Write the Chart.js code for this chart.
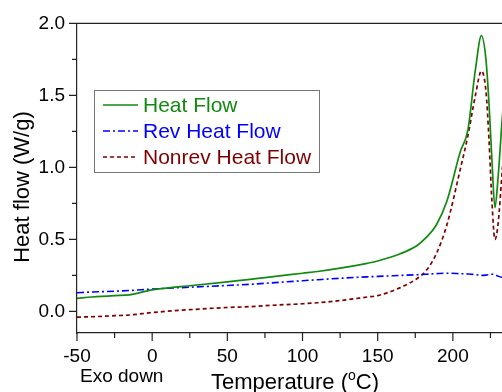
<!DOCTYPE html>
<html>
<head>
<meta charset="utf-8">
<script src="https://cdn.jsdelivr.net/npm/chart.js@4/dist/chart.umd.min.js"></script>
<style>
  html, body { margin: 0; padding: 0; overflow: hidden; background: #fff; }
  canvas { display: block; }
</style>
</head>
<body>
<canvas id="dsc" width="513" height="392"></canvas>
<script>
var temps = [-50, -40, -25, -15, 0, 15, 25, 50, 65, 75, 100, 110, 125, 143, 150, 165, 176, 182, 189, 196,
             205, 210, 215, 219, 222, 224, 226, 228, 230, 233, 236, 240];
var heatFlow = [0.09, 0.10, 0.11, 0.115, 0.15, 0.168, 0.178, 0.205, 0.222, 0.235, 0.265, 0.277, 0.30, 0.334, 0.35, 0.40, 0.456, 0.51, 0.60, 0.765,
                1.11, 1.26, 1.68, 1.915, 1.75, 1.45, 1.05, 0.72, 0.92, 1.36, 1.7, 1.9];
var revHeatFlow = [0.13, 0.135, 0.14, 0.145, 0.155, 0.163, 0.168, 0.18, 0.188, 0.195, 0.213, 0.22, 0.23, 0.24, 0.243, 0.25, 0.255, 0.258, 0.262, 0.265,
                   0.262, 0.26, 0.256, 0.25, 0.252, 0.255, 0.258, 0.255, 0.245, 0.235, 0.23, 0.23];
var nonrevHeatFlow = [-0.04, -0.037, -0.03, -0.025, -0.008, 0.005, 0.012, 0.027, 0.033, 0.04, 0.053, 0.06, 0.075, 0.10, 0.11, 0.165, 0.227, 0.28, 0.40, 0.60,
                      0.99, 1.22, 1.50, 1.67, 1.53, 1.2, 0.76, 0.50, 0.6, 1.0, 1.4, 1.6];
var seriesNames = ['Heat Flow', 'Rev Heat Flow', 'Nonrev Heat Flow'];
var xTicks = [-50, 0, 50, 100, 150, 200];
var yTicks = [0.0, 0.5, 1.0, 1.5, 2.0];

function pts(vals) {
    return temps.map(function (t, i) { return { x: t, y: vals[i] }; });
}

var font = 'Liberation Sans, Arial, sans-serif';
var axisColor = '#222';

function isMajor(v, list) {
    return list.some(function (m) { return Math.abs(m - v) < 1e-6; });
}

// ticks (long major, short minor), top frame line, legend box and axis texts
var decor = {
    id: 'decor',
    afterDraw: function (chart) {
        var ctx = chart.ctx, a = chart.chartArea;
        var xs = chart.scales.x, ys = chart.scales.y;
        ctx.save();
        ctx.strokeStyle = axisColor;
        ctx.lineWidth = 1.2;
        ctx.beginPath();
        ctx.moveTo(a.left, a.top);
        ctx.lineTo(a.right, a.top);
        xs.ticks.forEach(function (t) {
            var px = xs.getPixelForValue(t.value);
            var len = isMajor(t.value, xTicks) ? 8 : 5;
            ctx.moveTo(px, a.bottom);
            ctx.lineTo(px, a.bottom + len);
        });
        ys.ticks.forEach(function (t) {
            var py = ys.getPixelForValue(t.value);
            var len = isMajor(t.value, yTicks) ? 8 : 5;
            ctx.moveTo(a.left, py);
            ctx.lineTo(a.left - len, py);
        });
        ctx.stroke();

        // legend
        ctx.strokeStyle = '#777';
        ctx.lineWidth = 1;
        ctx.strokeRect(94.5, 90.5, 225, 82);
        ctx.font = '21px ' + font;
        ctx.textBaseline = 'middle';
        ctx.textAlign = 'left';
        chart.data.datasets.forEach(function (ds, i) {
            var y = 105 + i * 26;
            ctx.strokeStyle = ds.borderColor;
            ctx.lineWidth = ds.borderWidth;
            ctx.setLineDash(ds.borderDash || []);
            ctx.beginPath();
            ctx.moveTo(103, y);
            ctx.lineTo(138, y);
            ctx.stroke();
            ctx.fillStyle = ds.borderColor;
            ctx.fillText(ds.label, 143, y + 1);
        });
        ctx.setLineDash([]);

        // axis titles
        ctx.fillStyle = '#000';
        ctx.font = '19px ' + font;
        ctx.textBaseline = 'alphabetic';
        ctx.fillText('Exo down', 80, 382);

        var main = 'Temperature (', sup = 'o', tail = 'C)';
        ctx.font = '22px ' + font;
        var w1 = ctx.measureText(main).width, w3 = ctx.measureText(tail).width;
        ctx.font = '14px ' + font;
        var w2 = ctx.measureText(sup).width;
        var x0 = 295 - (w1 + w2 + w3) / 2;
        ctx.font = '22px ' + font;
        ctx.fillText(main, x0, 389);
        ctx.font = '14px ' + font;
        ctx.fillText(sup, x0 + w1, 380);
        ctx.font = '22px ' + font;
        ctx.fillText(tail, x0 + w1 + w2, 389);

        ctx.translate(23, 187);
        ctx.rotate(-Math.PI / 2);
        ctx.textAlign = 'center';
        ctx.textBaseline = 'middle';
        ctx.fillText('Heat flow (W/g)', 0, 0);
        ctx.restore();
    }
};

var chart = new Chart(document.getElementById('dsc'), {
    type: 'line',
    data: {
        datasets: [
            { label: seriesNames[0], data: pts(heatFlow), borderColor: '#128a12', borderWidth: 1.7 },
            { label: seriesNames[1], data: pts(revHeatFlow), borderColor: '#0000ff', borderWidth: 1.6, borderDash: [7, 3, 2, 3] },
            { label: seriesNames[2], data: pts(nonrevHeatFlow), borderColor: '#800000', borderWidth: 1.7, borderDash: [4, 3] }
        ]
    },
    options: {
        responsive: false,
        animation: false,
        events: [],
        layout: { padding: { top: 20, left: 0, right: 0, bottom: 0 } },
        elements: {
            point: { radius: 0 },
            line: { cubicInterpolationMode: 'monotone', fill: false }
        },
        plugins: { legend: { display: false }, tooltip: { enabled: false } },
        scales: {
            x: {
                type: 'linear',
                min: -50,
                max: 240,
                afterFit: function (s) { s.height = 59; },
                grid: { display: false, drawTicks: false },
                border: { display: true, color: axisColor, width: 1.2 },
                ticks: {
                    stepSize: 25,
                    includeBounds: false,
                    maxRotation: 0,
                    autoSkip: false,
                    padding: 12,
                    color: '#000',
                    font: { family: font, size: 19 },
                    callback: function (v) { return isMajor(v, xTicks) ? String(v) : ''; }
                }
            },
            y: {
                min: -0.15,
                max: 2.0,
                afterFit: function (s) { s.width = 77; },
                grid: { display: false, drawTicks: false },
                border: { display: true, color: axisColor, width: 1.2 },
                ticks: {
                    stepSize: 0.25,
                    includeBounds: false,
                    autoSkip: false,
                    padding: 12,
                    color: '#000',
                    font: { family: font, size: 19 },
                    callback: function (v) { return isMajor(v, yTicks) ? v.toFixed(1) : ''; }
                }
            }
        }
    },
    plugins: [decor]
});
</script>
</body>
</html>
